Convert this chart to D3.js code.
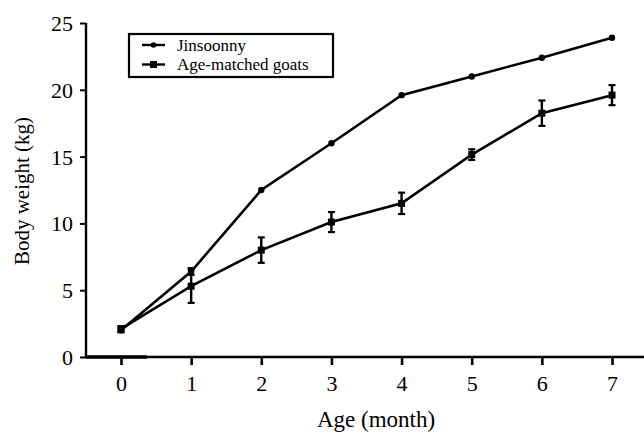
<!DOCTYPE html>
<html>
<head>
<meta charset="utf-8">
<script src="https://cdn.jsdelivr.net/npm/d3@7"></script>
<style>
  body { margin: 0; background: #fff; }
  svg text { font-family: "Liberation Serif", "Times New Roman", "DejaVu Serif", serif !important; fill: #000; }
</style>
</head>
<body>
<svg id="chart" width="644" height="434"></svg>
<script>
var months = [0, 1, 2, 3, 4, 5, 6, 7];
var jinsoonny = [2.0, 6.4, 12.5, 16.0, 19.6, 21.0, 22.4, 23.9];
var jinsoonnyErr = [0.15, 0.25, 0, 0, 0, 0, 0, 0];
var goats = [2.1, 5.3, 8.0, 10.1, 11.5, 15.15, 18.25, 19.6];
var goatsErr = [0.2, 1.25, 0.95, 0.75, 0.8, 0.4, 0.95, 0.75];
var yTicks = [0, 5, 10, 15, 20, 25];
var seriesNames = ['Jinsoonny', 'Age-matched goats'];

var serif = '"Liberation Serif", "Times New Roman", serif';
var svg = d3.select('#chart');

var x = d3.scaleLinear().domain([0, 7]).range([121, 612]);
var y = d3.scaleLinear().domain([0, 25]).range([357, 23]);

// y axis
var yAxis = svg.append('g').attr('transform', 'translate(86,0)')
    .call(d3.axisLeft(y).tickValues(yTicks).tickFormat(d3.format('d')).tickSize(6).tickPadding(7));
yAxis.attr('font-family', serif);
yAxis.select('.domain').attr('stroke-width', 2.4).attr('d', 'M0,' + y(25) + 'V' + (y(0) + 1));
yAxis.selectAll('.tick line').attr('stroke-width', 2);
yAxis.selectAll('.tick text').attr('font-size', 22).attr('dy', '0.34em');

// x axis
var xAxis = svg.append('g').attr('transform', 'translate(0,' + y(0) + ')')
    .call(d3.axisBottom(x).tickValues(months).tickFormat(d3.format('d')).tickSize(8).tickPadding(10));
xAxis.attr('font-family', serif);
xAxis.select('.domain').attr('stroke-width', 2.4).attr('d', 'M86,0H644');
xAxis.selectAll('.tick line').attr('stroke-width', 2.6);
xAxis.selectAll('.tick text').attr('font-size', 22).attr('dy', '0.72em');

// thicker zero segment at left
svg.append('line')
    .attr('x1', 86).attr('x2', 147)
    .attr('y1', y(0)).attr('y2', y(0))
    .attr('stroke', '#000').attr('stroke-width', 3.4);

// titles
svg.append('text')
    .attr('x', 376).attr('y', 427)
    .attr('text-anchor', 'middle')
    .attr('font-family', serif)
    .attr('font-size', 23)
    .text('Age (month)');

svg.append('text')
    .attr('transform', 'translate(29,' + 191 + ') rotate(-90)')
    .attr('text-anchor', 'middle')
    .attr('font-family', serif)
    .attr('font-size', 21)
    .text('Body weight (kg)');

var line = d3.line()
    .x(function(d) { return x(d.m); })
    .y(function(d) { return y(d.v); });

function drawSeries(vals, errs, shape) {
    var data = months.map(function(m, i) { return { m: m, v: vals[i], e: errs[i] }; });
    var g = svg.append('g');
    g.append('path')
        .datum(data)
        .attr('d', line)
        .attr('fill', 'none')
        .attr('stroke', '#000')
        .attr('stroke-width', 2.6);

    var eb = g.selectAll('.err').data(data.filter(function(d) { return d.e > 0; }))
        .join('g').attr('class', 'err');
    eb.append('line')
        .attr('x1', function(d) { return x(d.m); })
        .attr('x2', function(d) { return x(d.m); })
        .attr('y1', function(d) { return y(d.v + d.e); })
        .attr('y2', function(d) { return y(d.v - d.e); })
        .attr('stroke', '#000').attr('stroke-width', 2.4);
    [1, -1].forEach(function(s) {
        eb.append('line')
            .attr('x1', function(d) { return x(d.m) - 3.5; })
            .attr('x2', function(d) { return x(d.m) + 3.5; })
            .attr('y1', function(d) { return y(d.v + s * d.e); })
            .attr('y2', function(d) { return y(d.v + s * d.e); })
            .attr('stroke', '#000').attr('stroke-width', 2.2);
    });

    if (shape === 'circle') {
        g.selectAll('.pt').data(data).join('circle')
            .attr('cx', function(d) { return x(d.m); })
            .attr('cy', function(d) { return y(d.v); })
            .attr('r', 3.2)
            .attr('fill', '#000');
    } else {
        g.selectAll('.pt').data(data).join('rect')
            .attr('x', function(d) { return x(d.m) - 3.5; })
            .attr('y', function(d) { return y(d.v) - 3.5; })
            .attr('width', 7).attr('height', 7)
            .attr('fill', '#000');
    }
}

drawSeries(goats, goatsErr, 'square');
drawSeries(jinsoonny, jinsoonnyErr, 'circle');

// legend
var legend = svg.append('g');
legend.append('rect')
    .attr('x', 129).attr('y', 34)
    .attr('width', 204).attr('height', 43)
    .attr('fill', '#fff').attr('stroke', '#000').attr('stroke-width', 2.2);

seriesNames.forEach(function(name, i) {
    var ly = 45 + i * 19.5;
    legend.append('line')
        .attr('x1', 142).attr('x2', 165)
        .attr('y1', ly).attr('y2', ly)
        .attr('stroke', '#000').attr('stroke-width', 2.4);
    if (i === 0) {
        legend.append('circle').attr('cx', 153.5).attr('cy', ly).attr('r', 2.8).attr('fill', '#000');
    } else {
        legend.append('rect').attr('x', 150).attr('y', ly - 3.5).attr('width', 7).attr('height', 7).attr('fill', '#000');
    }
    legend.append('text')
        .attr('x', 177).attr('y', ly)
        .attr('dy', '0.35em')
        .attr('font-family', serif)
        .attr('font-size', 17)
        .text(name);
});
</script>
</body>
</html>
